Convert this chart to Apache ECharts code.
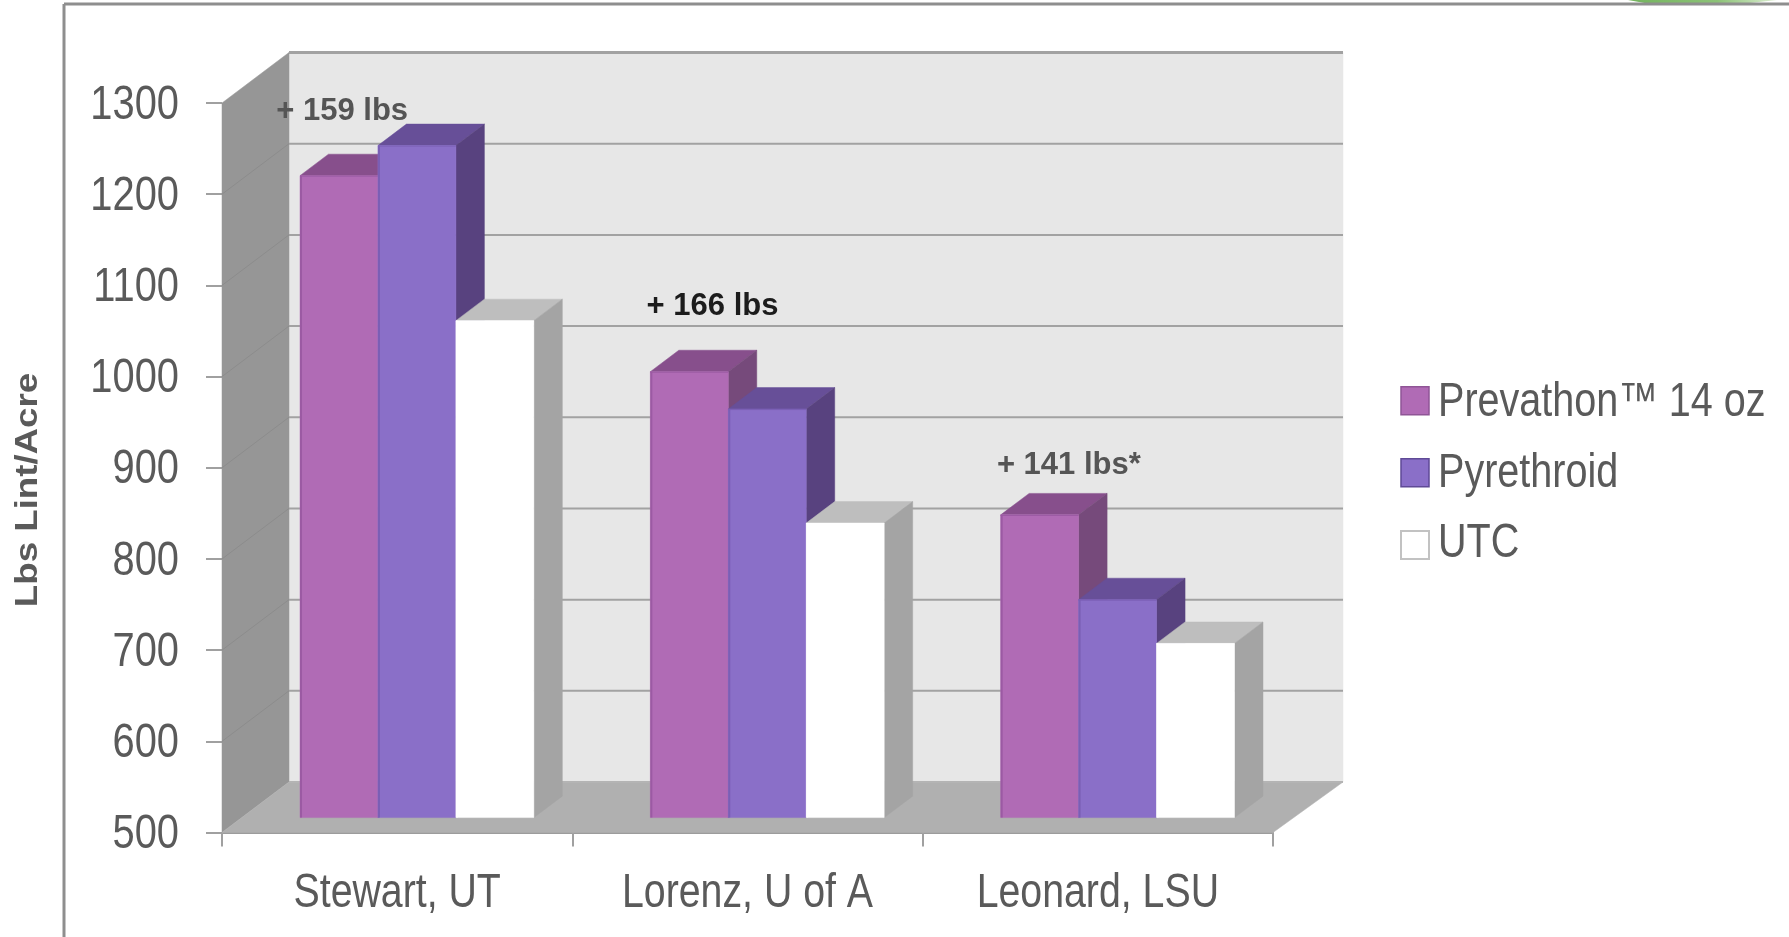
<!DOCTYPE html>
<html>
<head>
<meta charset="utf-8">
<title>Lint yield by location</title>
<style>
  html, body { margin: 0; padding: 0; background: #fff; }
  #chart { width: 1789px; height: 937px; }
</style>
<script src="https://cdn.jsdelivr.net/npm/echarts@6/dist/echarts.min.js"></script>
</head>
<body>
<div id="chart"></div>
<script>
// Lint yield, lbs per acre
const categories = ['Stewart, UT', 'Lorenz, U of A', 'Leonard, LSU'];
const seriesNames = ['Prevathon™ 14 oz', 'Pyrethroid', 'UTC'];
const prevathon = [1204, 989, 832];
const pyrethroid = [1237, 948, 739];
const utc = [1045, 823, 691];
const yTicks = [500, 600, 700, 800, 900, 1000, 1100, 1200, 1300];
const gainLabels = ['+ 159 lbs', '+ 166 lbs', '+ 141 lbs*'];
const gainLevels = [1291, 1077, 903];

// Fake-perspective geometry for the box and the columns
const WALL_DX = 67, WALL_DY = 50.5, BACK_OVERHANG = 3;
const BAR_NEAR = 0.295, BAR_FAR = 0.72;
const BAR_WIDTH_RATIO = 0.2225;
const GAIN_SHIFT = [-55, -35, -29];
const GAIN_COLORS = ['#555555', '#1c1c1c', '#555555'];
const TEXT = '#5a5a5a';
const FONT = '"Liberation Sans", Arial, sans-serif';
const LABEL_FONT = '48px ' + FONT;

const palettes = {
  prevathon: { front: '#B06BB5', edge: '#9B5AA3', top: '#874F8C', side: '#764A7B' },
  pyrethroid: { front: '#8A6FC8', edge: '#7A5FB5', top: '#674F98', side: '#58427F' },
  utc: { front: '#FFFFFF', edge: '#FFFFFF', top: '#BEBEBE', side: '#A4A4A4' }
};

function poly(points, fill) {
  return { type: 'polygon', shape: { points }, style: { fill, stroke: fill, lineWidth: 0.5 } };
}

function renderBox(params, api) {
  const [x0, yBottom] = api.coord([0, yTicks[0]]);
  const band = api.size([1, 0])[0];
  const left = x0 - band / 2;
  const right = left + band * categories.length;
  const backRight = right + WALL_DX + BACK_OVERHANG;
  const yTop = api.coord([0, yTicks[yTicks.length - 1]])[1];
  const children = [
    poly([[left + WALL_DX, yTop - WALL_DY], [backRight, yTop - WALL_DY],
          [backRight, yBottom - WALL_DY], [left + WALL_DX, yBottom - WALL_DY]], '#E7E7E7'),
    poly([[left, yTop], [left + WALL_DX, yTop - WALL_DY],
          [left + WALL_DX, yBottom - WALL_DY], [left, yBottom]], '#969696'),
    poly([[left, yBottom], [right, yBottom],
          [backRight, yBottom - WALL_DY], [left + WALL_DX, yBottom - WALL_DY]], '#B0B0B0')
  ];
  yTicks.forEach((tick, i) => {
    const y = api.coord([0, tick])[1];
    children.push({
      type: 'line',
      shape: { x1: left + WALL_DX, y1: y - WALL_DY, x2: backRight, y2: y - WALL_DY },
      style: { stroke: i === 0 ? '#B4B4B4' : '#A2A2A2', lineWidth: i === yTicks.length - 1 ? 3 : 2 }
    });
    if (i > 0 && i < yTicks.length - 1) {
      children.push({
        type: 'line',
        shape: { x1: left, y1: y, x2: left + WALL_DX, y2: y - WALL_DY },
        style: { stroke: '#8C8C8C', lineWidth: 1 }
      });
    }
  });
  return { type: 'group', children };
}

function barRenderer(order, colors) {
  return function (params, api) {
    const cat = api.value(0);
    const [cx, yTop0] = api.coord([cat, api.value(1)]);
    const yBase0 = api.coord([cat, yTicks[0]])[1];
    const band = api.size([1, 0])[0];
    const w = band * BAR_WIDTH_RATIO;
    const nearX = WALL_DX * BAR_NEAR, nearY = WALL_DY * BAR_NEAR;
    const farX = WALL_DX * BAR_FAR, farY = WALL_DY * BAR_FAR;
    const xl = cx + nearX + (order - 1.5) * w;
    const xr = xl + w;
    const yt = yTop0 - nearY;
    const yb = yBase0 - nearY;
    const backX = farX - nearX, backY = farY - nearY;
    return {
      type: 'group',
      children: [
        poly([[xl, yt], [xr, yt], [xr + backX, yt - backY], [xl + backX, yt - backY]], colors.top),
        poly([[xr, yt], [xr + backX, yt - backY], [xr + backX, yb - backY], [xr, yb]], colors.side),
        poly([[xl, yt], [xr, yt], [xr, yb], [xl, yb]], colors.front),
        { type: 'line', shape: { x1: xl + 1, y1: yt, x2: xl + 1, y2: yb },
          style: { stroke: colors.edge, lineWidth: 2 } },
        { type: 'line', shape: { x1: xl, y1: yt + 0.5, x2: xr, y2: yt + 0.5 },
          style: { stroke: colors.edge, lineWidth: 1 } }
      ]
    };
  };
}

function toPoints(values) {
  return values.map((v, i) => [i, v]);
}

function barSeries(name, values, order, colors) {
  return {
    name, type: 'custom', coordinateSystem: 'cartesian2d',
    encode: { x: 0, y: 1 }, clip: false, silent: true,
    itemStyle: { color: colors.front },
    data: toPoints(values),
    renderItem: barRenderer(order, colors)
  };
}

// Condensed labels: the installed sans has no narrow face, so the text is squeezed horizontally
function axisTextSeries(name, data, place) {
  return {
    type: 'custom', name, coordinateSystem: 'cartesian2d', encode: { x: 0, y: 1 },
    clip: false, silent: true, data, renderItem: place
  };
}

function legendLabel(text, y) {
  return {
    type: 'text', silent: true, x: 1438, y, scaleX: 0.824, z: 5,
    style: { text, fill: TEXT, font: LABEL_FONT, align: 'left', verticalAlign: 'middle' }
  };
}

const chart = echarts.init(document.getElementById('chart'), null, { renderer: 'canvas' });

chart.setOption({
  animation: false,
  backgroundColor: '#ffffff',
  grid: { left: 222, right: 1789 - 1273, top: 103, bottom: 937 - 832.5, containLabel: false },
  xAxis: {
    type: 'category', data: categories,
    axisLine: { show: true, lineStyle: { color: '#9C9C9C', width: 2 } },
    axisTick: { show: true, length: 14, lineStyle: { color: '#A0A0A0', width: 2 } },
    axisLabel: { show: false }
  },
  yAxis: {
    type: 'value', min: 500, max: 1300, interval: 100,
    splitLine: { show: false },
    axisLine: { show: false },
    axisTick: { show: true, length: 16, lineStyle: { color: '#A0A0A0', width: 2 } },
    axisLabel: { show: false }
  },
  legend: {
    left: 1400, top: 386, padding: 0, orient: 'vertical', itemWidth: 28, itemHeight: 28, itemGap: 42.5,
    icon: 'rect', selectedMode: false, formatter: () => '',
    textStyle: { fontSize: 10 },
    data: [
      { name: seriesNames[0], itemStyle: { color: palettes.prevathon.front, borderColor: '#8F5596', borderWidth: 1.5 } },
      { name: seriesNames[1], itemStyle: { color: palettes.pyrethroid.front, borderColor: '#5F4A96', borderWidth: 1.5 } },
      { name: seriesNames[2], itemStyle: { color: '#ffffff', borderColor: '#C2C2C2', borderWidth: 2 } }
    ]
  },
  graphic: [
    { type: 'polygon', silent: true, z: 0, shape: { points: [[1628, 0], [1777, 0], [1750, 3], [1650, 4]] },
      style: { fill: { type: 'linear', x: 0, y: 0, x2: 1, y2: 0,
        colorStops: [{ offset: 0, color: '#74B45E' }, { offset: 0.6, color: '#8CC277' }, { offset: 1, color: '#DDEED2' }] } } },
    { type: 'line', silent: true, z: 1, shape: { x1: 64, y1: 4, x2: 1789, y2: 4 },
      style: { stroke: '#8E8E8E', lineWidth: 3 } },
    { type: 'line', silent: true, z: 1, shape: { x1: 64, y1: 4, x2: 64, y2: 937 },
      style: { stroke: '#8E8E8E', lineWidth: 3 } },
    { type: 'text', silent: true, x: 28, y: 490, rotation: Math.PI / 2, scaleX: 1.146, z: 5,
      style: { text: 'Lbs Lint/Acre', fill: TEXT, font: 'bold 32px ' + FONT, align: 'center', verticalAlign: 'middle' } },
    legendLabel(seriesNames[0], 403),
    legendLabel(seriesNames[1], 474),
    legendLabel(seriesNames[2], 544)
  ],
  series: [
    { type: 'custom', name: 'box', coordinateSystem: 'cartesian2d', encode: { x: 0, y: 1 },
      clip: false, silent: true, data: [[0, yTicks[0]]], renderItem: renderBox },
    barSeries(seriesNames[0], prevathon, 0, palettes.prevathon),
    barSeries(seriesNames[1], pyrethroid, 1, palettes.pyrethroid),
    barSeries(seriesNames[2], utc, 2, palettes.utc),
    axisTextSeries('value labels', yTicks.map(t => [0, t]), (params, api) => {
      const [cx, y] = api.coord([0, api.value(1)]);
      const left = cx - api.size([1, 0])[0] / 2;
      return {
        type: 'text', x: left - 43, y: y + 2.5, scaleX: 0.83,
        style: { text: String(api.value(1)), fill: TEXT, font: LABEL_FONT, align: 'right', verticalAlign: 'middle' }
      };
    }),
    axisTextSeries('category labels', categories.map((c, i) => [i, yTicks[0]]), (params, api) => {
      const [cx, y] = api.coord([api.value(0), api.value(1)]);
      return {
        type: 'text', x: cx, y: y + 61, scaleX: 0.818,
        style: { text: categories[api.value(0)], fill: TEXT, font: LABEL_FONT, align: 'center', verticalAlign: 'middle' }
      };
    }),
    { type: 'custom', name: 'gain', coordinateSystem: 'cartesian2d', encode: { x: 0, y: 1 },
      clip: false, silent: true, data: toPoints(gainLevels),
      renderItem(params, api) {
        const i = api.value(0);
        const [cx, y] = api.coord([i, api.value(1)]);
        return {
          type: 'text', x: cx + GAIN_SHIFT[i], y,
          style: {
            text: gainLabels[i], fill: GAIN_COLORS[i], align: 'center', verticalAlign: 'middle',
            font: 'bold 31px ' + FONT
          }
        };
      } }
  ]
});
</script>
</body>
</html>
